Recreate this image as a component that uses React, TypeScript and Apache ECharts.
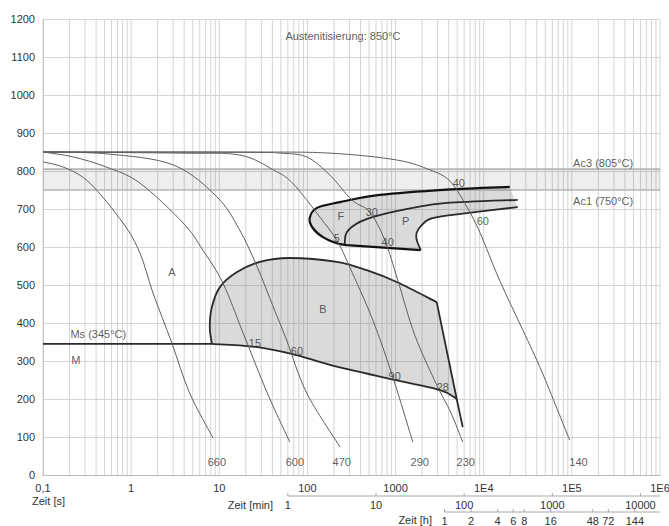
import React, { useEffect, useRef } from 'react';
import * as echarts from 'echarts';

// ---------- axis data ----------
const xTickLabels = ['0,1', '1', '10', '100', '1000', '1E4', '1E5', '1E6'];
const xMin = 0.1;
const xMax = 1e6;
const yMin = 0;
const yMax = 1200;
const yStep = 100;
const minuteTicks = [1, 10, 100, 1000, 10000];
const hourTicks = [1, 2, 4, 6, 8, 16, 48, 72, 144];
const Ac1 = 750;
const Ac3 = 805;
const MsT = 345;

// ---------- cooling curves [time s, temp °C] ----------
const curve660 = [[0.1, 824], [0.18, 808], [0.34, 768], [0.81, 663], [1.26, 584], [1.77, 479], [2.9, 347], [4.6, 216], [8.5, 97]];
const curve600 = [[0.1, 850], [0.22, 837], [0.53, 810], [1.26, 768], [3.9, 663], [6.5, 592], [11, 505], [18.6, 374], [35, 216], [63, 87]];
const curve470 = [[0.1, 850], [0.53, 845], [3.0, 816], [9.4, 732], [17, 645], [27, 547], [41, 442], [58, 355], [98, 216], [234, 74]];
const curve290 = [[0.1, 850], [3.6, 847], [17, 842], [41, 803], [68, 768], [138, 679], [215, 618], [302, 547], [551, 408], [929, 258], [1567, 87]];
const curve230 = [[0.1, 850], [20, 849], [48.6, 847], [98, 837], [180, 789], [318, 724], [509, 692], [755, 618], [1059, 513], [1652, 368], [2930, 237], [4200, 166], [5780, 87]];
const curve140 = [[0.1, 850], [22, 850], [180, 847], [1030, 829], [2445, 803], [4120, 774], [6250, 711], [9020, 639], [15100, 513], [27700, 382], [46400, 268], [94400, 92]];

// ---------- transformation regions ----------
const fOuter = [[19700, 758], [3800, 751], [661, 737], [233, 718], [128, 703], [106, 676], [115, 650], [150, 626], [215, 610], [280, 605]];
const fBottom = [[280, 605], [1930, 592]];
const pNose = [[1930, 592], [1740, 618], [1740, 638], [2030, 660], [2630, 676], [6410, 689], [24300, 705]];
const pStart = [[265, 608], [280, 639], [393, 666], [661, 684], [1567, 703], [3800, 716], [24300, 724]];

const bTop = [[8.24, 345], [7.8, 389], [8.24, 442], [10.2, 495], [15.9, 534], [28.9, 561], [63, 571], [215, 561], [471, 539], [1030, 508], [2930, 455]];
const bRight = [[2930, 455], [4940, 200], [5780, 126]];
const bBottom = [[4940, 200], [3160, 224], [794, 255], [180, 290], [68, 318], [24, 338], [8.24, 345]];
const msLine = [[0.1, 345], [8.24, 345]];

// ---------- annotations [text, time s, temp °C] ----------
const centerLabels: [string, number, number][] = [
  ['A', 2.9, 534], ['B', 150, 437], ['F', 240, 682], ['P', 1306, 668],
  ['5', 215, 624], ['30', 537, 692], ['40', 813, 613], ['40', 5210, 768], ['60', 9770, 668],
  ['15', 25.4, 347], ['60', 76, 326], ['90', 977, 261], ['28', 3430, 232],
  ['660', 9.4, 34], ['600', 72, 34], ['470', 245, 34], ['290', 1880, 34], ['230', 6250, 34], ['140', 119000, 34],
];
const leftLabels: [string, number, number][] = [
  ['Austenitisierung: 850°C', 55.5, 1155],
  ['Ac3 (805°C)', 102000, 821],
  ['Ac1 (750°C)', 102000, 721],
  ['Ms (345°C)', 0.202, 371],
  ['M', 0.207, 303],
];

const FAMILY = '"Liberation Sans", Arial, sans-serif';
const FONT = '11px ' + FAMILY;
const TXT = '#333';

function fmt(n: number) { return n.toFixed(2); }
function smoothPath(pts: number[][], move = true) {
  let d = move ? `M${fmt(pts[0][0])},${fmt(pts[0][1])}` : `L${fmt(pts[0][0])},${fmt(pts[0][1])}`;
  for (let i = 0; i < pts.length - 1; i++) {
    const p0 = pts[i - 1] || pts[i];
    const p1 = pts[i];
    const p2 = pts[i + 1];
    const p3 = pts[i + 2] || pts[i + 1];
    const c1x = p1[0] + (p2[0] - p0[0]) / 6;
    const c1y = p1[1] + (p2[1] - p0[1]) / 6;
    const c2x = p2[0] - (p3[0] - p1[0]) / 6;
    const c2y = p2[1] - (p3[1] - p1[1]) / 6;
    d += ` C${fmt(c1x)},${fmt(c1y)} ${fmt(c2x)},${fmt(c2y)} ${fmt(p2[0])},${fmt(p2[1])}`;
  }
  return d;
}
function linePath(pts: number[][], move = true) {
  return pts.map((p, i) => `${i === 0 && move ? 'M' : 'L'}${fmt(p[0])},${fmt(p[1])}`).join(' ');
}

export default function App() {
  const ref = useRef<HTMLDivElement>(null);
  useEffect(() => {
    if (!ref.current) return;
    const chart = echarts.init(ref.current, null, { renderer: 'svg' });

    // vertical log grid line positions (1..9 per decade)
    const gridXs: number[][] = [];
    for (let d = -1; d <= 6; d++) {
      for (let m = 1; m <= 9; m++) {
        const v = Number((m * Math.pow(10, d)).toPrecision(3));
        if (v >= xMin && v <= xMax) gridXs.push([v, 0]);
      }
    }

    const secondaryData: number[][] = [];
    minuteTicks.forEach((m) => secondaryData.push([m * 60, 0, m]));
    hourTicks.forEach((h) => secondaryData.push([h * 3600, 1, h]));
    secondaryData.push([minuteTicks[0] * 60, 2, 0]);
    secondaryData.push([hourTicks[0] * 3600, 3, 0]);

    const curves = [curve660, curve600, curve470, curve290, curve230, curve140];

    const option: any = {
      animation: false,
      backgroundColor: '#fff',
      grid: { left: 43, right: 9, top: 19, bottom: 51, containLabel: false, outerBoundsMode: 'none' },
      xAxis: {
        type: 'log',
        logBase: 10,
        min: xMin,
        max: xMax,
        axisLine: { show: true, lineStyle: { color: '#b8b8b8', width: 1 } },
        axisTick: { show: false },
        splitLine: { show: false },
        minorTick: { show: false },
        minorSplitLine: { show: false },
        axisLabel: {
          color: TXT,
          fontSize: 11,
          fontFamily: FAMILY,
          margin: 7,
          showMinLabel: true,
          showMaxLabel: true,
          formatter: (v: number) => {
            const e = Math.round(Math.log10(v));
            return xTickLabels[e + 1] ?? '';
          },
        },
      },
      yAxis: {
        type: 'value',
        min: yMin,
        max: yMax,
        interval: yStep,
        axisLine: { show: true, lineStyle: { color: '#b8b8b8', width: 1 } },
        axisTick: { show: false },
        splitLine: { show: true, lineStyle: { color: '#d4d4d4', width: 1 } },
        axisLabel: { color: TXT, fontSize: 11, fontFamily: FAMILY, margin: 8, formatter: (v: number) => String(v) },
      },
      graphic: [
        { type: 'text', x: 32, y: 501, style: { text: 'Zeit [s]', font: FONT, fill: TXT, align: 'left', textAlign: 'left', verticalAlign: 'middle', textVerticalAlign: 'middle' } },
        { type: 'text', x: 273, y: 505, style: { text: 'Zeit [min]', font: FONT, fill: TXT, align: 'right', textAlign: 'right', verticalAlign: 'middle', textVerticalAlign: 'middle' } },
        { type: 'text', x: 432, y: 520, style: { text: 'Zeit [h]', font: FONT, fill: TXT, align: 'right', textAlign: 'right', verticalAlign: 'middle', textVerticalAlign: 'middle' } },
      ],
      series: [
        // vertical grid lines
        {
          type: 'custom', z: 1, silent: true, data: gridXs,
          renderItem: (_p: any, api: any) => {
            const a = api.coord([api.value(0), yMin]);
            const b = api.coord([api.value(0), yMax]);
            return { type: 'line', shape: { x1: a[0], y1: a[1], x2: b[0], y2: b[1] }, style: { stroke: '#d4d4d4', lineWidth: 1 } };
          },
        },
        // Ac1/Ac3 band
        {
          type: 'custom', z: 2, silent: true, data: [[1, Ac1]],
          renderItem: (_p: any, api: any) => {
            const a = api.coord([xMin, Ac3]);
            const b = api.coord([xMax, Ac1]);
            return {
              type: 'group', children: [
                { type: 'rect', shape: { x: a[0], y: a[1], width: b[0] - a[0], height: b[1] - a[1] }, style: { fill: 'rgba(0,0,0,0.065)' } },
                { type: 'line', shape: { x1: a[0], y1: a[1], x2: b[0], y2: a[1] }, style: { stroke: '#b4b4b4', lineWidth: 1.6 } },
                { type: 'line', shape: { x1: a[0], y1: b[1], x2: b[0], y2: b[1] }, style: { stroke: '#b4b4b4', lineWidth: 1.6 } },
              ],
            };
          },
        },
        // transformation regions
        {
          type: 'custom', z: 3, silent: true, data: [[1, MsT]],
          renderItem: (_p: any, api: any) => {
            const P = (arr: number[][]) => arr.map((p) => api.coord(p));
            const outer = P(fOuter), bottom = P(fBottom), nose = P(pNose), pst = P(pStart);
            const top = P(bTop), right = P(bRight), bot = P(bBottom), ms = P(msLine);
            const fpFill = smoothPath(outer) + ' ' + linePath(bottom, false) + ' ' + smoothPath(nose, false) + ' Z';
            const bFill = smoothPath(top) + ' ' + linePath([right[1]], false) + ' ' + smoothPath(bot, false) + ' Z';
            const fillStyle = { fill: 'rgba(120,120,120,0.27)', stroke: 'none' };
            const strokeStyle = { fill: 'none', stroke: '#2a2a2a', lineWidth: 1.8, lineJoin: 'round' };
            return {
              type: 'group', children: [
                { type: 'path', shape: { pathData: fpFill }, style: fillStyle },
                { type: 'path', shape: { pathData: bFill }, style: fillStyle },
                { type: 'path', shape: { pathData: smoothPath(outer) + ' ' + linePath(bottom, false) }, style: { fill: 'none', stroke: '#111', lineWidth: 2.2, lineJoin: 'round' } },
                { type: 'path', shape: { pathData: smoothPath(nose) }, style: strokeStyle },
                { type: 'path', shape: { pathData: smoothPath(pst) }, style: strokeStyle },
                { type: 'path', shape: { pathData: smoothPath(top) }, style: strokeStyle },
                { type: 'path', shape: { pathData: linePath(right) }, style: strokeStyle },
                { type: 'path', shape: { pathData: linePath(ms) + ' ' + smoothPath(bot.slice().reverse(), false) }, style: strokeStyle },
              ],
            };
          },
        },
        // cooling curves
        {
          type: 'custom', z: 4, silent: true, data: curves.map((c, i) => [c[0][0], c[0][1], i]),
          renderItem: (_p: any, api: any) => {
            const c = curves[api.value(2)];
            const pts = c.map((p) => api.coord(p));
            return { type: 'path', shape: { pathData: smoothPath(pts) }, style: { fill: 'none', stroke: '#5f5f5f', lineWidth: 1 } };
          },
        },
        // centered annotations
        {
          type: 'scatter', z: 6, silent: true, symbolSize: 1,
          itemStyle: { color: 'rgba(0,0,0,0)' },
          data: centerLabels.map((l) => ({ name: l[0], value: [l[1], l[2]] })),
          label: { show: true, position: 'inside', formatter: '{b}', color: TXT, fontSize: 11, fontFamily: FAMILY },
        },
        // left-aligned annotations
        {
          type: 'scatter', z: 6, silent: true, symbolSize: 1,
          itemStyle: { color: 'rgba(0,0,0,0)' },
          data: leftLabels.map((l) => ({ name: l[0], value: [l[1], l[2]] })),
          label: { show: true, position: 'right', distance: 0, formatter: '{b}', color: TXT, fontSize: 11, fontFamily: FAMILY },
        },
        // secondary time axes (min, h)
        {
          type: 'custom', z: 6, silent: true, data: secondaryData,
          renderItem: (_p: any, api: any) => {
            const v = api.value(0);
            const k = api.value(1);
            const base = api.coord([v, yMin]);
            const end = api.coord([xMax, yMin]);
            const yL = base[1] + (k === 0 || k === 2 ? 21 : 37);
            const lineStyle = { stroke: '#a8a8a8', lineWidth: 1 };
            if (k === 2 || k === 3) {
              return { type: 'line', shape: { x1: base[0], y1: yL, x2: end[0], y2: yL }, style: lineStyle };
            }
            return {
              type: 'group', children: [
                { type: 'line', shape: { x1: base[0], y1: yL - 3, x2: base[0], y2: yL }, style: lineStyle },
                {
                  type: 'text', x: base[0], y: yL + (k === 0 ? 9 : 8.5),
                  style: { text: String(api.value(2)), font: FONT, fill: TXT, stroke: 'none', align: 'center', textAlign: 'center', verticalAlign: 'middle', textVerticalAlign: 'middle' },
                },
              ],
            };
          },
        },
      ],
    };
    chart.setOption(option);
    return () => chart.dispose();
  }, []);
  return <div ref={ref} style={{ position: 'fixed', left: 0, top: 0, width: 669, height: 526, background: '#fff' }} />;
}
